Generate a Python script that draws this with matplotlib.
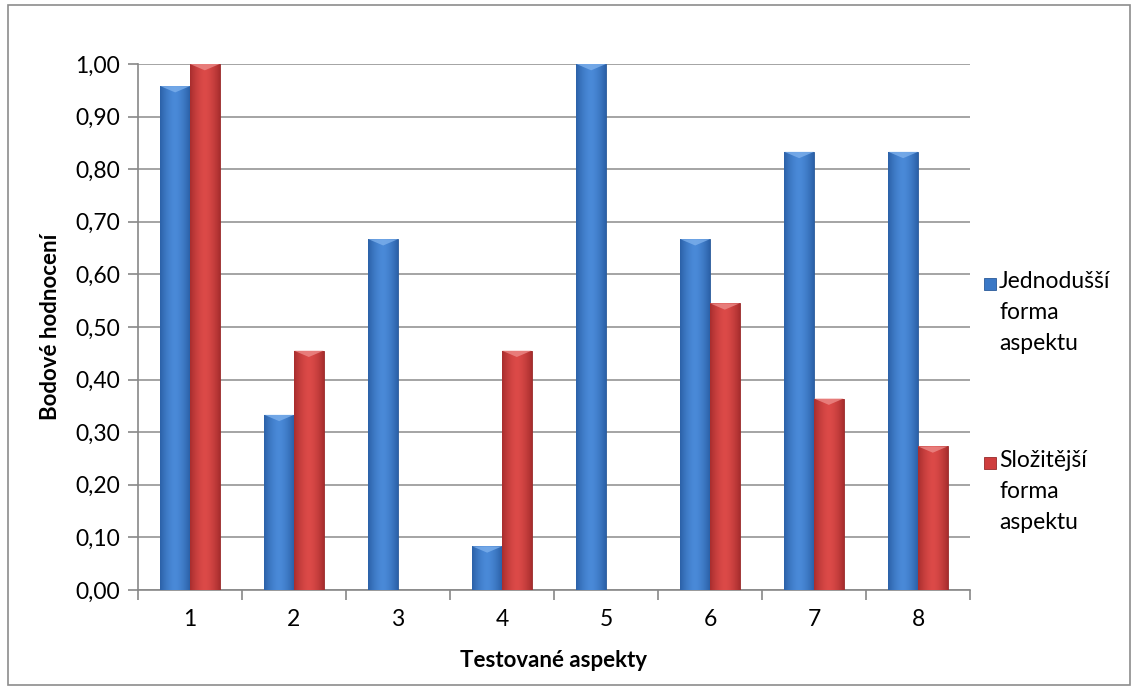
import numpy as np
import matplotlib.pyplot as plt
from matplotlib.patches import Rectangle

plt.rcParams['font.family'] = ['Lato', 'DejaVu Sans']

aspekty = ['1', '2', '3', '4', '5', '6', '7', '8']
jednodussi = [0.958, 0.333, 0.667, 0.083, 1.00, 0.667, 0.833, 0.833]
slozitejsi = [1.00, 0.455, 0.0, 0.455, 0.0, 0.545, 0.364, 0.273]
nazvy = ['Jednodušší\nforma\naspektu', 'Složitější\nforma\naspektu']

fig = plt.figure(figsize=(11.38, 6.9), dpi=100)
ax = fig.add_axes([138 / 1138, 100 / 690, 832 / 1138, 526 / 690])

x = np.arange(len(aspekty))
w = 0.285
b1 = ax.bar(x - w / 2, jednodussi, w, color='#3a78c6', edgecolor='#2a5a98', linewidth=0.6, zorder=3)
b2 = ax.bar(x + w / 2, slozitejsi, w, color='#cf3d3d', edgecolor='#962a2a', linewidth=0.6, zorder=3)

# horizontal shading so the bars look rounded
def shade(bars, dark, light, top):
    dark = np.array(plt.matplotlib.colors.to_rgb(dark))
    light = np.array(plt.matplotlib.colors.to_rgb(light))
    t = np.linspace(-1, 1, 64)
    k = 1 - np.abs(t) ** 1.6
    grad = dark[None, :] + (light - dark)[None, :] * k[:, None]
    for r in bars:
        h = r.get_height()
        if h <= 0:
            continue
        im = ax.imshow(grad[None, :, :], extent=[r.get_x(), r.get_x() + r.get_width(), 0, h],
                       aspect='auto', zorder=3.5, interpolation='bilinear')
        im.set_clip_path(r)
        ax.fill([r.get_x(), r.get_x() + r.get_width() / 2, r.get_x() + r.get_width()],
                [h, h - 0.012, h], color=top, alpha=0.8, zorder=4, lw=0)

shade(b1, '#2b61a8', '#4a8ad8', '#7db0ec')
shade(b2, '#a82e2e', '#dc4a48', '#ec8a88')

ax.set_xlim(-0.5, 7.5)
ax.set_ylim(0, 1.0)
ax.set_yticks(np.arange(0, 1.01, 0.1))
ax.set_yticklabels([f'{v:.2f}'.replace('.', ',') for v in np.arange(0, 1.01, 0.1)], fontsize=16.5)
ax.set_xticks(x)
ax.set_xticklabels(aspekty, fontsize=16.5)
ax.set_xticks(np.arange(-0.5, 8, 1), minor=True)
ax.tick_params(axis='x', which='major', length=0, pad=14)
ax.tick_params(axis='x', which='minor', length=7, color='#888888', width=1.2)
ax.tick_params(axis='y', length=7, color='#888888', width=1.2, pad=6)
ax.grid(axis='y', color='#8c8c8c', linewidth=1.1, zorder=0)
for s in ('top', 'right'):
    ax.spines[s].set_visible(False)
for s in ('left', 'bottom'):
    ax.spines[s].set_color('#888888')
    ax.spines[s].set_linewidth(1.2)

ax.set_ylabel('Bodové hodnocení', fontsize=16, fontweight='bold', labelpad=10)
ax.set_xlabel('Testované aspekty', fontsize=16, fontweight='bold', labelpad=14)

# legend with the marker next to the first line of each label
for nazev, barva, hrana, ytop in ((nazvy[0], '#3a78c6', '#2a5a98', 271), (nazvy[1], '#cf3d3d', '#962a2a', 450)):
    fig.patches.append(Rectangle((984 / 1138, 1 - (ytop + 19) / 690), 12 / 1138, 12 / 690,
                                 transform=fig.transFigure, facecolor=barva, edgecolor=hrana, lw=0.6))
    fig.text(999 / 1138, 1 - ytop / 690, nazev, fontsize=16.5, va='top', ha='left', linespacing=1.6)

fig.patches.append(Rectangle((8 / 1138, 5 / 690), 1122 / 1138, 680 / 690, transform=fig.transFigure,
                             fill=False, edgecolor='#8c8c8c', linewidth=1.2))

fig.savefig('out.png', dpi=100)
